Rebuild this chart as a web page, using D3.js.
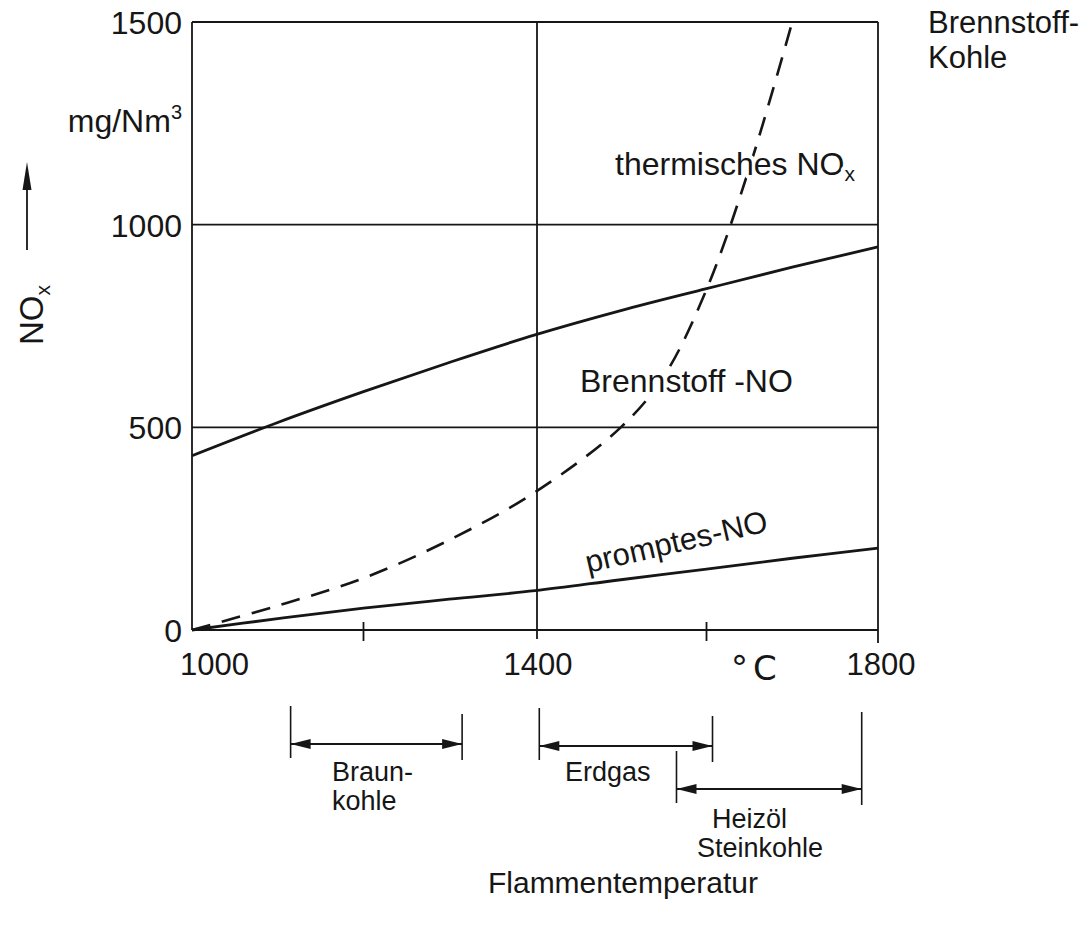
<!DOCTYPE html>
<html>
<head>
<meta charset="utf-8">
<script src="https://cdn.jsdelivr.net/npm/d3@7"></script>
<style>
  body { margin: 0; background: #fff; }
  svg { display: block; font-family: "Liberation Sans", Arial, sans-serif; }
  text { fill: #161616; }
  .halo { stroke: #fff; stroke-width: 8px; paint-order: stroke; stroke-linejoin: round; }
</style>
</head>
<body>
<div id="chart"></div>
<script>
// temperatures (°C) and NOx values (mg/Nm3)
const thermTemp = [1000, 1100, 1200, 1300, 1400, 1500, 1550, 1600, 1650, 1700];
const thermNOx = [0, 60, 128, 222, 340, 500, 625, 840, 1140, 1500];

const fuelTemp = [1000, 1100, 1200, 1300, 1400, 1500, 1600, 1700, 1800];
const fuelNOx = [430, 512, 588, 660, 728, 788, 842, 895, 945];

const promptTemp = [1000, 1100, 1200, 1300, 1400, 1500, 1600, 1700, 1800];
const promptNOx = [0, 28, 54, 76, 97, 124, 150, 177, 202];

const yTicks = [0, 500, 1000, 1500];
const xLabels = [1000, 1400, 1800];
const xMinorTicks = [1200, 1600];

// typical flame temperature ranges per fuel
const fuelNames = [["Braun-", "kohle"], ["Erdgas"], ["Heizöl", "Steinkohle"]];
const fuelFrom = [1115, 1405, 1565];
const fuelTo = [1315, 1607, 1781];

const width = 1092;
const height = 926;

const svg = d3
  .select("#chart")
  .append("svg")
  .attr("width", width)
  .attr("height", height);

const x = d3.scaleLinear().domain([1000, 1800]).range([192, 878]);
const y = d3.scaleLinear().domain([0, 1500]).range([630, 22]);

const ink = "#161616";

// frame + grid
const grid = svg.append("g").attr("stroke", ink).attr("stroke-width", 1.8);

grid.selectAll(".hgrid")
  .data(yTicks)
  .enter()
  .append("line")
  .attr("x1", x(1000))
  .attr("x2", x(1800))
  .attr("y1", (d) => y(d))
  .attr("y2", (d) => y(d));

grid.append("line")
  .attr("x1", x(1000)).attr("x2", x(1000))
  .attr("y1", y(1500)).attr("y2", y(0));

grid.append("line")
  .attr("x1", x(1400) + 2).attr("x2", x(1400) + 2)
  .attr("y1", y(1500)).attr("y2", y(0) + 9);

grid.append("line")
  .attr("x1", x(1800)).attr("x2", x(1800))
  .attr("y1", y(1500)).attr("y2", y(0) + 13);

grid.selectAll(".minor")
  .data(xMinorTicks)
  .enter()
  .append("line")
  .attr("x1", (d) => x(d))
  .attr("x2", (d) => x(d))
  .attr("y1", y(0) - 8)
  .attr("y2", y(0) + 11);

// tick labels
svg.selectAll(".ylab")
  .data(yTicks)
  .enter()
  .append("text")
  .attr("x", 182)
  .attr("y", (d) => y(d) + 12)
  .attr("text-anchor", "end")
  .attr("font-size", 32)
  .text((d) => d);

svg.selectAll(".xlab")
  .data(xLabels)
  .enter()
  .append("text")
  .attr("x", (d, i) => (i === 0 ? x(d) - 12 : x(d) + 3))
  .attr("y", 675)
  .attr("text-anchor", (d, i) => (i === 0 ? "start" : "middle"))
  .attr("font-size", 31)
  .text((d) => d);

svg.append("text")
  .attr("x", 731)
  .attr("y", 680)
  .attr("font-size", 34)
  .attr("font-family", "DejaVu Sans")
  .attr("letter-spacing", 5)
  .text("°C");

// units + axis label
const unit = svg.append("text")
  .attr("x", 182)
  .attr("y", 132)
  .attr("text-anchor", "end")
  .attr("font-size", 32);
unit.append("tspan").text("mg/Nm");
unit.append("tspan").attr("font-size", 20).attr("dy", -13).text("3");

const nox = svg.append("text")
  .attr("transform", "translate(43,345) rotate(-90)")
  .attr("font-size", 33);
nox.append("tspan").text("NO");
nox.append("tspan").attr("font-size", 21).attr("dy", 7).text("x");

svg.append("line")
  .attr("x1", 27).attr("x2", 27)
  .attr("y1", 250).attr("y2", 180)
  .attr("stroke", ink).attr("stroke-width", 1.8);
svg.append("path")
  .attr("d", "M27,162 L22.5,190 L31.5,190 Z")
  .attr("fill", ink);

// curves
const line = d3.line()
  .x((d) => x(d[0]))
  .y((d) => y(d[1]))
  .curve(d3.curveCatmullRom.alpha(0.5));

svg.append("path")
  .datum(d3.zip(fuelTemp, fuelNOx))
  .attr("d", line)
  .attr("fill", "none")
  .attr("stroke", ink)
  .attr("stroke-width", 2.8);

svg.append("path")
  .datum(d3.zip(promptTemp, promptNOx))
  .attr("d", line)
  .attr("fill", "none")
  .attr("stroke", ink)
  .attr("stroke-width", 2.8);

svg.append("path")
  .datum(d3.zip(thermTemp, thermNOx))
  .attr("d", line)
  .attr("fill", "none")
  .attr("stroke", ink)
  .attr("stroke-width", 2.6)
  .attr("stroke-dasharray", "19,12");

// curve labels (white halo cuts the dashed line like in the print)
const therm = svg.append("text").attr("class", "halo").attr("x", 615).attr("y", 175).attr("font-size", 32);
therm.append("tspan").text("thermisches NO");
therm.append("tspan").attr("font-size", 21).attr("dy", 6).text("x");

svg.append("text")
  .attr("class", "halo")
  .attr("x", 580).attr("y", 392)
  .attr("font-size", 32)
  .text("Brennstoff -NO");

svg.append("text")
  .attr("transform", "translate(588,573) rotate(-13)")
  .attr("font-size", 31)
  .text("promptes-NO");

svg.append("text")
  .attr("x", 928).attr("y", 33)
  .attr("font-size", 31)
  .text("Brennstoff-");
svg.append("text")
  .attr("x", 928).attr("y", 68)
  .attr("font-size", 31)
  .text("Kohle");

// fuel range brackets below the axis
const rowY = [744, 746, 789];
const labelX = [332, 565, 712];
const labelY = [781, 781, 828];

fuelNames.forEach(function (names, i) {
  const g = svg.append("g");
  const x0 = x(fuelFrom[i]);
  const x1 = x(fuelTo[i]);
  const yy = rowY[i];

  g.append("line")
    .attr("x1", x0).attr("x2", x0)
    .attr("y1", yy - 38).attr("y2", yy + 14)
    .attr("stroke", ink).attr("stroke-width", 1.6);
  g.append("line")
    .attr("x1", x1).attr("x2", x1)
    .attr("y1", i === 2 ? 712 : yy - 30).attr("y2", yy + 16)
    .attr("stroke", ink).attr("stroke-width", 1.6);
  g.append("line")
    .attr("x1", x0).attr("x2", x1)
    .attr("y1", yy).attr("y2", yy)
    .attr("stroke", ink).attr("stroke-width", 2);
  g.append("path")
    .attr("d", `M${x0},${yy} L${x0 + 20},${yy - 5} L${x0 + 20},${yy + 5} Z`)
    .attr("fill", ink);
  g.append("path")
    .attr("d", `M${x1},${yy} L${x1 - 20},${yy - 5} L${x1 - 20},${yy + 5} Z`)
    .attr("fill", ink);

  names.forEach(function (n, j) {
    g.append("text")
      .attr("x", labelX[i] - (i === 2 && j === 1 ? 15 : 0))
      .attr("y", labelY[i] + j * 29)
      .attr("font-size", 27)
      .text(n);
  });
});

svg.append("text")
  .attr("x", 623).attr("y", 893)
  .attr("text-anchor", "middle")
  .attr("font-size", 30)
  .text("Flammentemperatur");
</script>
</body>
</html>
